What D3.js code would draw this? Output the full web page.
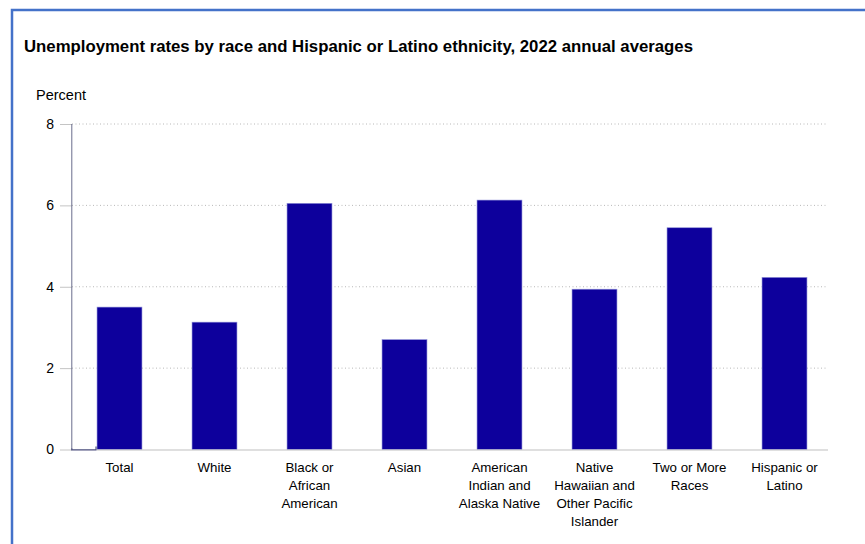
<!DOCTYPE html>
<html>
<head>
<meta charset="utf-8">
<script src="https://cdn.jsdelivr.net/npm/d3@7"></script>
<style>
  html, body { margin: 0; padding: 0; background: #fff; }
  svg { display: block; font-family: "Liberation Sans", Arial, Helvetica, sans-serif; }
</style>
</head>
<body>
<svg id="chart" width="865" height="544"></svg>
<script>
const categories = [
  ["Total"],
  ["White"],
  ["Black or", "African", "American"],
  ["Asian"],
  ["American", "Indian and", "Alaska Native"],
  ["Native", "Hawaiian and", "Other Pacific", "Islander"],
  ["Two or More", "Races"],
  ["Hispanic or", "Latino"]
];
const values = [3.5, 3.13, 6.05, 2.7, 6.13, 3.94, 5.45, 4.23];
const yTicks = [0, 2, 4, 6, 8];
const titleText = "Unemployment rates by race and Hispanic or Latino ethnicity, 2022 annual averages";
const yAxisTitle = "Percent";

const svg = d3.select("#chart");

// frame border
svg.append("path")
  .attr("d", "M12,544 L12,10 L865,10")
  .attr("fill", "none")
  .attr("stroke", "#4472c9")
  .attr("stroke-width", 2.5);

const keys = categories.map((c, i) => i);
const x = d3.scaleBand().domain(keys).range([72, 832])
  .paddingInner(0.527).paddingOuter(0.2635);
const y = d3.scaleLinear().domain([0, 8]).range([449.5, 124]);
const gridRight = 828;

// title
const title = svg.append("text")
  .attr("x", 24).attr("y", 52)
  .attr("font-size", 15).attr("font-weight", "bold")
  .attr("fill", "#000")
  .text(titleText);
const tw = title.node().getComputedTextLength();
if (tw > 0) title.attr("font-size", 15 * 669 / tw);

svg.append("text")
  .attr("x", 36).attr("y", 100)
  .attr("font-size", 14.5).attr("fill", "#000")
  .text(yAxisTitle);

// gridlines
svg.append("g").selectAll("line")
  .data(yTicks.filter(d => d > 0))
  .join("line")
  .attr("x1", 72).attr("x2", gridRight)
  .attr("y1", d => y(d)).attr("y2", d => y(d))
  .attr("stroke", "#b8b8b8").attr("stroke-width", 1)
  .attr("stroke-dasharray", "1,2.5");

// y axis using d3 axis
const yAxis = d3.axisLeft(y).tickValues(yTicks).tickSize(12).tickPadding(6);
const gy = svg.append("g").attr("transform", "translate(72,0)").call(yAxis);
gy.select(".domain").remove();
gy.selectAll(".tick line").attr("stroke", "#c4c4c4");
gy.selectAll(".tick text").attr("font-size", 14).attr("fill", "#000")
  .attr("font-family", "'Liberation Sans', Arial, Helvetica, sans-serif");

// bars
svg.append("g").selectAll("rect")
  .data(values)
  .join("rect")
  .attr("x", (d, i) => x(i))
  .attr("width", x.bandwidth())
  .attr("y", d => y(d))
  .attr("height", d => y(0) - y(d))
  .attr("fill", "#0d009c")
  .attr("stroke", "#8f8fd8")
  .attr("stroke-width", 0.6);

// baseline
svg.append("line")
  .attr("x1", x(0)).attr("x2", gridRight)
  .attr("y1", y(0) + 0.5).attr("y2", y(0) + 0.5)
  .attr("stroke", "#c0c0c0").attr("stroke-width", 1.2);

// y axis line
svg.append("line")
  .attr("x1", 71.8).attr("x2", 71.8)
  .attr("y1", y(8)).attr("y2", y(0))
  .attr("stroke", "#6a6d8c").attr("stroke-width", 1);

// small artifact hook at bottom-left
svg.append("path")
  .attr("d", `M71.8,${y(0) - 1} L71.8,${y(0) + 0.3} L${x(0) - 1},${y(0) + 0.3} L${x(0) - 1},${y(0) - 3}`)
  .attr("fill", "none").attr("stroke", "#4a4d7c").attr("stroke-width", 1.2);

// x labels
const xl = svg.append("g").selectAll("text")
  .data(categories)
  .join("text")
  .attr("x", (d, i) => x(i) + x.bandwidth() / 2)
  .attr("y", 472)
  .attr("text-anchor", "middle")
  .attr("font-size", 13.3)
  .attr("fill", "#000");
xl.selectAll("tspan")
  .data(d => d)
  .join("tspan")
  .attr("x", function() { return this.parentNode.getAttribute("x"); })
  .attr("dy", (d, i) => i === 0 ? 0 : 18)
  .text(d => d);
</script>
</body>
</html>
